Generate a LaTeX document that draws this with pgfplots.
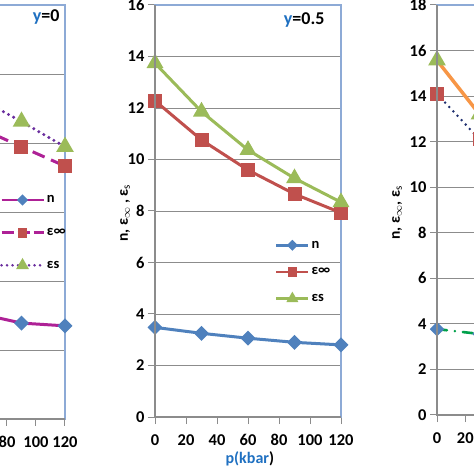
\documentclass[border=0pt]{standalone}
\usepackage{fontspec}
\setmainfont{Carlito}
\usepackage{pgfplots}
\pgfplotsset{compat=1.18}

\definecolor{nblue}{HTML}{4F81BD}
\definecolor{ered}{HTML}{C0504D}
\definecolor{sgreen}{HTML}{9BBB59}
\definecolor{magline}{HTML}{AE2196}
\definecolor{purpdot}{HTML}{6A2E9E}
\definecolor{orangel}{HTML}{F79646}
\definecolor{navydot}{HTML}{1F2F6F}
\definecolor{greendot}{HTML}{00A04A}
\definecolor{gridgray}{HTML}{8C8C8C}
\definecolor{frameblue}{HTML}{8DAAD6}
\definecolor{labblue}{HTML}{1F70C1}

\newcommand{\lblfont}{\fontsize{15.5}{18}\selectfont\bfseries}

\pgfplotsset{
  panel/.style={
    scale only axis,
    axis line style={frameblue, line width=1.2pt},
    xtick pos=bottom, ytick pos=left,
    tick style={gridgray, line width=1pt},
    tick align=outside,
    major tick length=7pt,
    ymajorgrids,
    grid style={gridgray, line width=0.9pt},
    xmin=0, xmax=120, xtick={0,20,...,120},
    ymin=0,
    tick label style={font=\fontsize{16.5}{19}\selectfont\bfseries},
    xticklabel style={yshift=-7pt},
    /pgf/number format/assume math mode=true,
    legend cell align=left,
    legend style={draw=none, fill=none, inner sep=0pt, font=\fontsize{14.5}{17}\selectfont\bfseries},
    after end axis/.code={
      \draw[gridgray, line width=1.2pt] (rel axis cs:0,1) -- (rel axis cs:0,0) -- (rel axis cs:1,0);
    },
  },
  mk/.style={mark options={solid, draw=#1, fill=#1}},
  dmd/.style={mark=square*, mark size=3.8pt, mark options={solid, rotate=45, draw=nblue, fill=nblue}},
  sqr/.style={mark=square*, mark size=5.5pt, mk=ered},
  tri/.style={mark=triangle*, mark size=6.8pt, mk=sgreen},
  % smaller marks for the legend
  ldmd/.style={mark=square*, mark size=2.7pt, mark options={solid, rotate=45, draw=nblue, fill=nblue}},
  lsqr/.style={mark=square*, mark size=3.6pt, mk=ered},
  ltri/.style={mark=triangle*, mark size=4.6pt, mk=sgreen},
}

\begin{document}
\begin{tikzpicture}
\useasboundingbox (0,0) rectangle (474pt,474pt);
\clip (0,0) rectangle (474pt,474pt);

% left panel, y = 0 (only its right part is in view)
\begin{axis}[panel,
  at={(-109pt,55pt)}, anchor=south west,
  width=174pt, height=414pt,
  ymax=12, ytick={0,2,...,12},
  legend style={at={(0.626,0.45)}, anchor=west, row sep=20pt},
  legend image code/.code={\draw[mark repeat=2, mark phase=2, #1] plot coordinates {(0pt,0pt) (21pt,0pt) (42pt,0pt)};},
]
\addlegendimage{magline, line width=2.6pt, ldmd}
\addlegendimage{magline, line width=2.6pt, dash pattern=on 12pt off 4pt, lsqr}
\addlegendimage{purpdot, line width=2.8pt, line cap=round, dash pattern=on 0pt off 5.5pt, ltri}
\addplot[forget plot, magline, line width=3pt, dmd] coordinates {(60,3.06) (90,2.78) (120,2.70)};
\addplot[forget plot, magline, line width=3pt, dash pattern=on 13pt off 7pt, sqr] coordinates {(60,8.46) (90,7.89) (120,7.33)};
\addplot[forget plot, purpdot, line width=3.4pt, line cap=round, dash pattern=on 0pt off 5.8pt, tri] coordinates {(60,9.31) (90,8.62) (120,7.89)};
\legend{n, ε∞, εs}
\node[anchor=east, font=\fontsize{18}{20}\selectfont\bfseries] at (axis description cs:0.989,0.971) {\textcolor{labblue}{y}=0};
\end{axis}

% middle panel, y = 0.5
\begin{axis}[panel,
  at={(155pt,57pt)}, anchor=south west,
  width=186pt, height=412pt,
  ymax=16, ytick={0,2,...,16},
  xlabel={\textcolor{labblue}{p(kbar})},
  xlabel style={font=\fontsize{16}{18}\selectfont\bfseries, at={(axis description cs:0.51,-0.102)}, anchor=center},
  ylabel={n, ε$_\infty$ , ε$_\mathrm{s}$},
  ylabel style={font=\lblfont, at={(axis description cs:-0.161,0.495)}, anchor=center},
  legend style={at={(0.645,0.352)}, anchor=west, row sep=14pt},
  legend image code/.code={\draw[mark repeat=2, mark phase=2, #1] plot coordinates {(0pt,0pt) (16pt,0pt) (32pt,0pt)};},
]
\addlegendimage{nblue, line width=2.4pt, ldmd}
\addlegendimage{ered, line width=2.4pt, lsqr}
\addlegendimage{sgreen, line width=2.4pt, ltri}
\addplot[forget plot, nblue, line width=3pt, dmd] coordinates {(0,3.48) (30,3.25) (60,3.06) (90,2.90) (120,2.80)};
\addplot[forget plot, ered, line width=3pt, sqr] coordinates {(0,12.28) (30,10.76) (60,9.59) (90,8.66) (120,7.93)};
\addplot[forget plot, sgreen, line width=3pt, tri] coordinates {(0,13.74) (30,11.86) (60,10.37) (90,9.27) (120,8.34)};
\legend{n, ε∞, εs}
\node[anchor=east, font=\fontsize{18}{20}\selectfont\bfseries] at (axis description cs:0.93,0.964) {\textcolor{labblue}{y}=0.5};
\end{axis}

% right panel (only its left part is in view)
\begin{axis}[panel,
  at={(437pt,59pt)}, anchor=south west,
  width=170pt, height=410pt,
  ymax=18, ytick={0,2,...,18},
  ylabel={n, ε$_\infty$, ε$_\mathrm{s}$},
  ylabel style={font=\lblfont, at={(axis description cs:-0.235,0.493)}, anchor=center},
]
\addplot[greendot, line width=2.6pt, line cap=round, dash pattern=on 10pt off 8pt on 0pt off 8pt, dmd] coordinates {(0,3.77) (30,3.56)};
\addplot[navydot, line width=2.8pt, line cap=round, dash pattern=on 0pt off 6pt, sqr] coordinates {(0,14.1) (30,12.1)};
\addplot[orangel, line width=3.5pt, tri] coordinates {(0,15.57) (30,13.2)};
\end{axis}
\end{tikzpicture}
\end{document}
